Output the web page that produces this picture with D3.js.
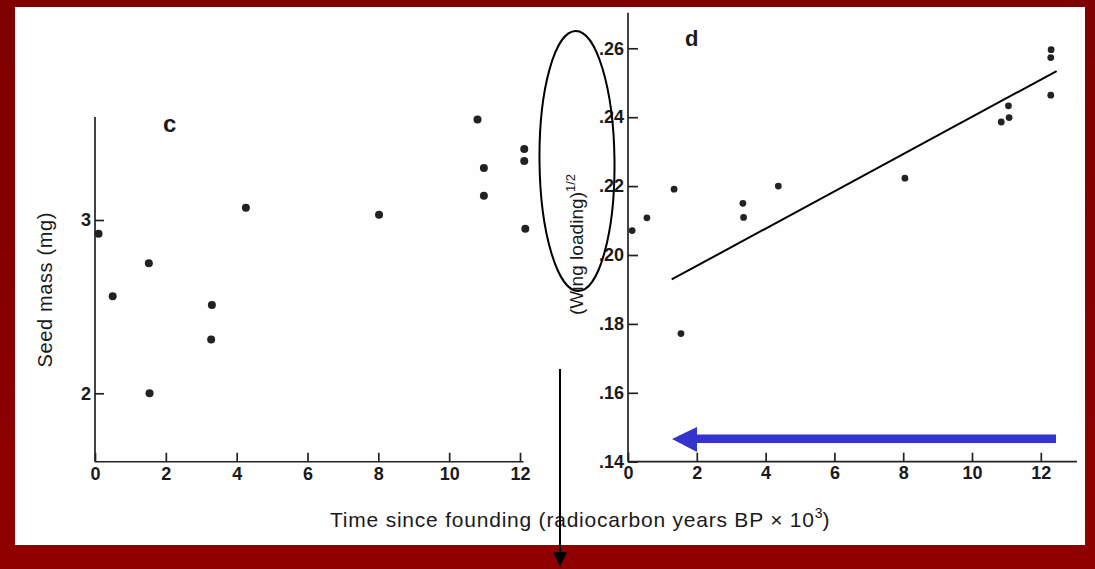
<!DOCTYPE html>
<html>
<head>
<meta charset="utf-8">
<script src="https://cdn.jsdelivr.net/npm/d3@7"></script>
<style>
  html, body { margin: 0; padding: 0; background: #8a0000; }
  svg { display: block; }
  text { font-family: "Liberation Sans", Arial, Helvetica, sans-serif; fill: #1a1a1a; }
  .tick text { font-size: 18px; font-weight: bold; }
  .axis path, .axis line { stroke: #222; stroke-width: 1.7; }
</style>
</head>
<body>
<script>
// Panel c: seed mass over time since founding
const cTime = [0.1, 0.5, 1.52, 1.54, 3.3, 3.28, 4.26, 8.02, 10.8, 10.98, 10.98, 12.12, 12.12, 12.15];
const cMass = [2.92, 2.56, 2.75, 2.0, 2.51, 2.31, 3.07, 3.03, 3.58, 3.30, 3.14, 3.41, 3.34, 2.95];

// Panel d: square-root wing loading over time since founding
const dTime = [0.12, 0.55, 1.34, 1.54, 3.34, 3.36, 4.37, 8.05, 10.85, 11.06, 11.08, 12.29, 12.29, 12.3];
const dLoad = [0.2071, 0.2108, 0.2191, 0.1772, 0.2150, 0.2109, 0.2200, 0.2223, 0.2386, 0.2433, 0.2399, 0.2464, 0.2573, 0.2596];

// Fitted trend in panel d: endpoints in data units
const trendX = [1.27, 12.46];
const trendY = [0.1929, 0.2534];

// Tick values
const xTicks = [0, 2, 4, 6, 8, 10, 12];
const cYTicks = [2, 3];
const dYTicks = [0.14, 0.16, 0.18, 0.20, 0.22, 0.24, 0.26];

const W = 1095, H = 569;
const svg = d3.select("body").append("svg").attr("width", W).attr("height", H);

// frame: dark red backdrop with white page
const defs = svg.append("defs");
const grad = defs.append("linearGradient").attr("id", "frame").attr("x1", 0).attr("y1", 0).attr("x2", 0).attr("y2", 1);
grad.append("stop").attr("offset", "0%").attr("stop-color", "#7e0000");
grad.append("stop").attr("offset", "100%").attr("stop-color", "#900000");

svg.append("rect").attr("width", W).attr("height", H).attr("fill", "url(#frame)");
svg.append("rect").attr("x", 15).attr("y", 7).attr("width", 1070).attr("height", 538).attr("fill", "#fefefe");

// ---------- panel c ----------
const cx = d3.scaleLinear().domain([0, 12]).range([95, 520]);
const cy = d3.scaleLinear().domain([2, 3]).range([393.3, 220]);

const cYAxis = d3.axisLeft(cy).tickValues(cYTicks).tickFormat(d3.format("d"))
  .tickSizeInner(-9).tickSizeOuter(0).tickPadding(4);
const cXAxis = d3.axisBottom(cx).tickValues(xTicks).tickFormat(d3.format("d"))
  .tickSizeInner(-9).tickSizeOuter(0).tickPadding(5);

const gcy = svg.append("g").attr("class", "axis").attr("transform", `translate(${cx(0)},0)`).call(cYAxis);
gcy.select(".domain").attr("d", `M0,${cy(1.605)}V${cy(3.595)}`);
const gcx = svg.append("g").attr("class", "axis").attr("transform", `translate(0,${cy(1.605)})`).call(cXAxis);
gcx.select(".domain").attr("d", `M${cx(0)},0H${cx(12.1)}`);

svg.append("g").selectAll("circle").data(cTime).join("circle")
  .attr("cx", (d, i) => cx(d)).attr("cy", (d, i) => cy(cMass[i]))
  .attr("r", 4).attr("fill", "#222");

svg.append("text").attr("x", 163).attr("y", 132).attr("font-size", 24).attr("font-weight", "bold").text("c");

svg.append("text").attr("transform", "translate(52,290) rotate(-90)")
  .attr("text-anchor", "middle").attr("font-size", 20)
  .attr("textLength", 155).attr("lengthAdjust", "spacing")
  .text("Seed mass (mg)");

// ---------- panel d ----------
const dx = d3.scaleLinear().domain([0, 12]).range([628, 1040.8]);
const dy = d3.scaleLinear().domain([0.14, 0.26]).range([461.7, 48.3]);
const fmtDot = d => d.toFixed(2).replace(/^0/, "");

const dYAxis = d3.axisLeft(dy).tickValues(dYTicks).tickFormat(fmtDot)
  .tickSizeInner(-10).tickSizeOuter(0).tickPadding(4);
const dXAxis = d3.axisBottom(dx).tickValues(xTicks).tickFormat(d3.format("d"))
  .tickSizeInner(-9).tickSizeOuter(0).tickPadding(5);

const gdy = svg.append("g").attr("class", "axis").attr("transform", `translate(${dx(0)},0)`).call(dYAxis);
gdy.select(".domain").attr("d", `M0,${dy(0.14)}V${dy(0.2703)}`);
const gdx = svg.append("g").attr("class", "axis").attr("transform", `translate(0,${dy(0.14)})`).call(dXAxis);
gdx.select(".domain").attr("d", `M${dx(0)},0H${dx(13.05)}`);

svg.append("line")
  .attr("x1", dx(trendX[0])).attr("y1", dy(trendY[0]))
  .attr("x2", dx(trendX[1])).attr("y2", dy(trendY[1]))
  .attr("stroke", "#000").attr("stroke-width", 2);

svg.append("g").selectAll("circle").data(dTime).join("circle")
  .attr("cx", (d, i) => dx(d)).attr("cy", (d, i) => dy(dLoad[i]))
  .attr("r", 3.4).attr("fill", "#222");

svg.append("text").attr("x", 685).attr("y", 46).attr("font-size", 22).attr("font-weight", "bold").text("d");

const dLab = svg.append("text").attr("transform", "translate(583,315) rotate(-90)")
  .attr("text-anchor", "start").attr("font-size", 19);
dLab.append("tspan").attr("textLength", 123).attr("lengthAdjust", "spacing").text("(Wing loading)");
dLab.append("tspan").attr("font-size", 13).attr("dy", -8).text("1/2");

// shared x title
const xt = svg.append("text").attr("x", 330).attr("y", 527).attr("font-size", 21);
xt.append("tspan").attr("textLength", 484).attr("lengthAdjust", "spacing")
  .text("Time since founding (radiocarbon years BP \u00d7 10");
xt.append("tspan").attr("font-size", 14).attr("dy", -9).text("3");
xt.append("tspan").attr("dy", 9).text(")");

// ---------- annotations ----------
svg.append("ellipse").attr("cx", 577).attr("cy", 161).attr("rx", 37.5).attr("ry", 130)
  .attr("transform", "rotate(-0.6 577 161)")
  .attr("fill", "none").attr("stroke", "#000").attr("stroke-width", 2);

// downward black arrow
svg.append("line").attr("x1", 560).attr("y1", 369).attr("x2", 560).attr("y2", 554)
  .attr("stroke", "#000").attr("stroke-width", 2);
svg.append("path").attr("d", "M553,552 L567,552 L560,567 Z").attr("fill", "#000");

// left-pointing blue arrow
svg.append("rect").attr("x", 695).attr("y", 434.5).attr("width", 361).attr("height", 8.5).attr("fill", "#3434cc");
svg.append("path").attr("d", "M672,439 L697,427 L697,452 Z").attr("fill", "#3434cc");
</script>
</body>
</html>
